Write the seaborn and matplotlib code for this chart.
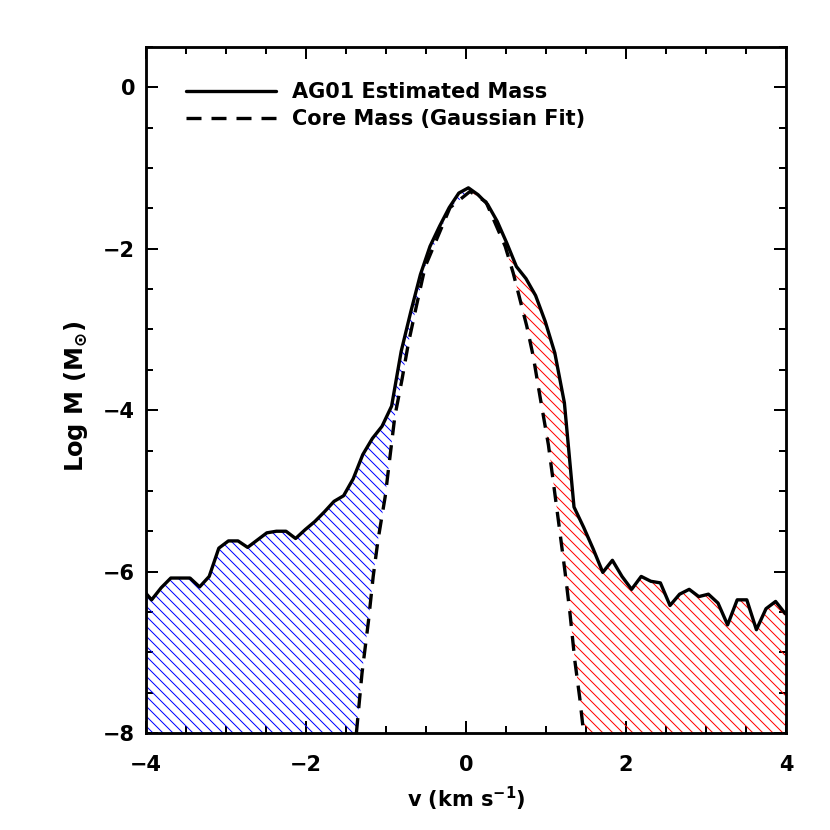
import numpy as np
import matplotlib
matplotlib.use('Agg')
import matplotlib.pyplot as plt
from matplotlib.ticker import MultipleLocator
import seaborn as sns

# AG01 estimated mass (log M vs velocity)
vel = [-4.00, -3.93, -3.81, -3.69, -3.57, -3.45, -3.33, -3.21, -3.09, -2.97,
       -2.85, -2.73, -2.61, -2.49, -2.37, -2.25, -2.13, -2.01, -1.89, -1.77,
       -1.65, -1.53, -1.41, -1.29, -1.17, -1.05, -0.93, -0.81, -0.69, -0.57,
       -0.45, -0.33, -0.21, -0.09, 0.03, 0.15, 0.27, 0.39, 0.51, 0.63,
       0.75, 0.87, 0.99, 1.11, 1.23, 1.35, 1.47, 1.59, 1.71, 1.83,
       1.95, 2.07, 2.19, 2.31, 2.43, 2.55, 2.67, 2.79, 2.91, 3.03,
       3.15, 3.27, 3.39, 3.51, 3.63, 3.75, 3.87, 3.99]
log_mass = [-6.27, -6.35, -6.20, -6.08, -6.08, -6.08, -6.19, -6.06, -5.71, -5.62,
            -5.62, -5.70, -5.61, -5.52, -5.50, -5.50, -5.59, -5.48, -5.38, -5.26,
            -5.13, -5.06, -4.85, -4.55, -4.35, -4.20, -3.95, -3.27, -2.78, -2.32,
            -1.97, -1.72, -1.49, -1.31, -1.245, -1.33, -1.45, -1.66, -1.93, -2.22,
            -2.37, -2.58, -2.90, -3.29, -3.91, -5.20, -5.45, -5.72, -6.01, -5.86,
            -6.06, -6.22, -6.06, -6.12, -6.14, -6.42, -6.28, -6.22, -6.31, -6.28,
            -6.39, -6.66, -6.35, -6.35, -6.72, -6.46, -6.37, -6.52]

# core mass (gaussian fit), dashed curve
core_vel = [-1.37, -1.30, -1.22, -1.16, -1.10, -1.01, -0.97, -0.89, -0.80, -0.72,
            -0.62, -0.51, -0.37, -0.20, 0.05, 0.25, 0.49, 0.59, 0.675, 0.76,
            0.84, 0.925, 1.03, 1.11, 1.175, 1.24, 1.30, 1.36, 1.425, 1.47]
core_mass = [-8.00, -7.26, -6.62, -6.06, -5.61, -5.07, -4.74, -4.08, -3.62, -3.17,
             -2.71, -2.22, -1.89, -1.49, -1.29, -1.42, -1.97, -2.30, -2.63, -2.96,
             -3.33, -3.83, -4.43, -5.03, -5.52, -6.02, -6.52, -7.10, -7.59, -8.00]

labels = ['AG01 Estimated Mass', 'Core Mass (Gaussian Fit)']
xticks = [-4, -2, 0, 2, 4]
yticks = [-8, -6, -4, -2, 0]

sns.set_style('ticks')
plt.rcParams['font.family'] = ['DejaVu Sans']
plt.rcParams['font.weight'] = 'bold'
plt.rcParams['mathtext.default'] = 'regular'
plt.rcParams['hatch.linewidth'] = 0.6
for k in ['text.color', 'axes.labelcolor', 'xtick.color', 'ytick.color', 'axes.edgecolor']:
    plt.rcParams[k] = 'black'

fs = 12.5
fig = plt.figure(figsize=(830 / 120, 830 / 120), dpi=120)
ax = fig.add_axes([146 / 830, 1 - 733 / 830, 640 / 830, 686 / 830])

xmin, xmax, ymin, ymax = -4, 4, -8, 0.5

v = np.array(vel)
m = np.array(log_mass)
cv = np.array(core_vel)
cm = np.array(core_mass)
ipk = int(np.argmax(m))
icp = int(np.argmax(cm))

hatch = '\\' * 4

# blue wing: observed above the gaussian on the negative side
bx = np.concatenate([v[:ipk + 1], cv[:icp + 1][::-1], [xmin]])
by = np.concatenate([m[:ipk + 1], cm[:icp + 1][::-1], [ymin]])
ax.fill(bx, by, facecolor='none', edgecolor='#0000ff', hatch=hatch, linewidth=0, zorder=1)

# red wing
rx = np.concatenate([v[ipk:], [xmax], cv[icp:][::-1]])
ry = np.concatenate([m[ipk:], [ymin], cm[icp:][::-1]])
ax.fill(rx, ry, facecolor='none', edgecolor='#ff0000', hatch=hatch, linewidth=0, zorder=1)

sns.lineplot(x=vel, y=log_mass, color='black', lw=2.0, ax=ax, label=labels[0], zorder=3)
sns.lineplot(x=core_vel, y=core_mass, color='black', lw=2.0, ax=ax, label=labels[1],
             linestyle=(0, (4.5, 3.0)), zorder=2)

ax.set_xlim(xmin, xmax)
ax.set_ylim(ymin, ymax)
ax.set_xticks(xticks)
ax.set_yticks(yticks)
ax.xaxis.set_minor_locator(MultipleLocator(0.5))
ax.yaxis.set_minor_locator(MultipleLocator(0.5))
ax.tick_params(which='both', direction='in', top=True, right=True, width=1.2,
               labelsize=fs)
ax.tick_params(which='major', length=7.2)
ax.tick_params(which='minor', length=4.2)
ax.tick_params(axis='x', pad=13)
ax.tick_params(axis='y', pad=6.5)
for s in ax.spines.values():
    s.set_linewidth(1.7)

ax.set_xlabel('v (km s$^{-1}$)', fontsize=fs, fontweight='bold')
ax.set_ylabel('Log M (M$_{\\odot}$)', fontsize=14.5, fontweight='bold')
ax.xaxis.set_label_coords(0.5, -0.075)
ax.yaxis.set_label_coords(-0.088, 0.49)

ax.legend(loc='upper left', bbox_to_anchor=(0.0625, 0.949), frameon=False,
          fontsize=fs, handlelength=4.3, handletextpad=0.8, borderpad=0,
          borderaxespad=0, labelspacing=0.35)

fig.savefig('out.png', dpi=120)
